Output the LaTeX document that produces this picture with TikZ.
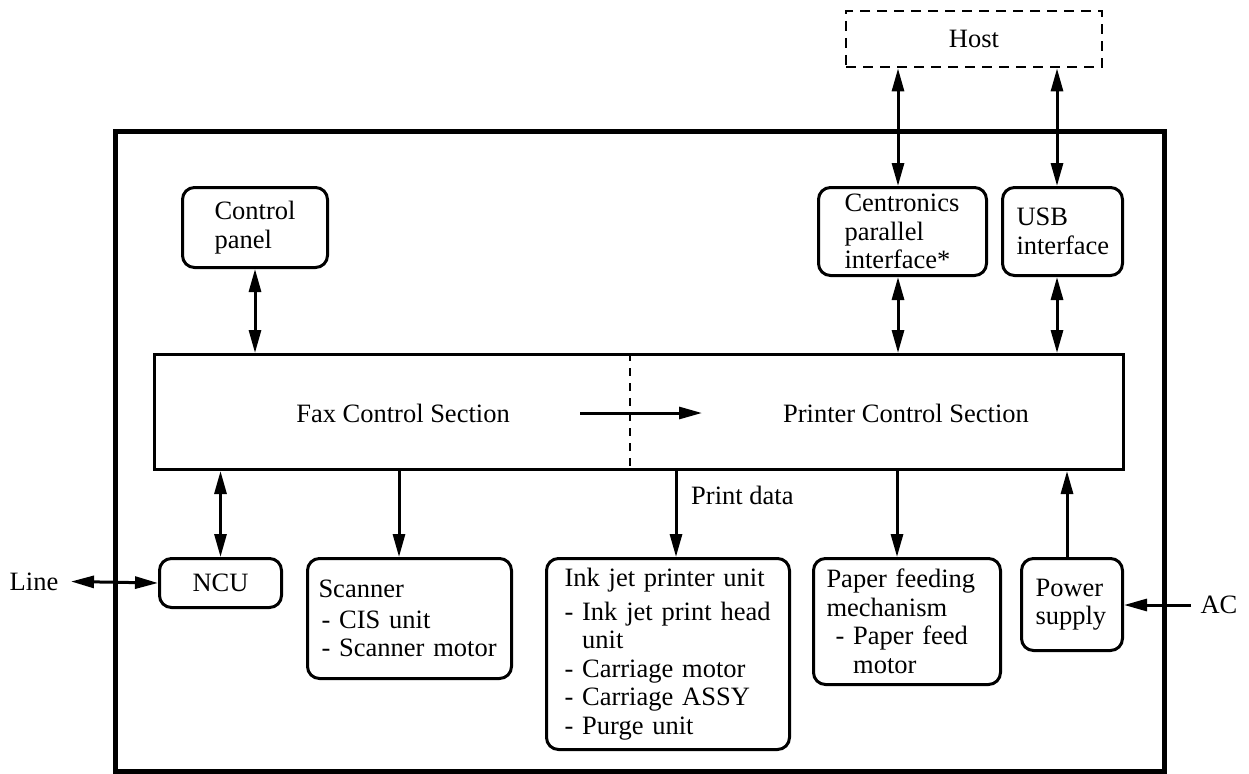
\documentclass[tikz,border=0pt]{standalone}
\usepackage{fontspec}
\setmainfont{Liberation Serif}
\usetikzlibrary{arrows.meta}
\begin{document}
\begin{tikzpicture}[x=1pt,y=-1pt,
  font=\fontsize{26.5}{28.5}\selectfont,
  >={Triangle[length=23pt,width=12pt]},
  box/.style={draw, rounded corners=12pt, line width=3pt, anchor=north west, align=left, inner ysep=0pt},
  lbl/.style={inner sep=2pt},
  conn/.style={line width=3pt},
]
\useasboundingbox (0,0) rectangle (1249,773);
% outer frame
\draw[line width=5pt] (115,131.5) rectangle (1164,771);

% host
\node[draw, dash pattern=on 10pt off 7pt, line width=2.8pt, minimum width=256pt, minimum height=56pt, inner sep=0pt] (host) at (974,39) {Host};

% top boxes
\node[box, minimum width=145pt, minimum height=80pt, inner xsep=32pt, text width=81pt] (cp) at (181,186) {Control\\panel};
\node[box, minimum width=168pt, minimum height=88pt, inner xsep=26pt, text width=116pt] (cen) at (817,186) {Centronics\\parallel\\interface*};
\node[box, minimum width=120pt, minimum height=88pt, inner xsep=14pt, text width=92pt] (usb) at (1001,186) {USB\\interface};

% control section
\node[draw, line width=3pt, minimum width=969pt, minimum height=115pt, anchor=north west, inner sep=0pt] (ctrl) at (153,353) {};
\node (fax) at (403,413) {Fax Control Section};
\node (prn) at (906,413) {Printer Control Section};
\coordinate (div) at (630,0);
\draw[line width=2.6pt, dash pattern=on 8pt off 7pt] (ctrl.north -| div) -- (ctrl.south -| div);
\coordinate (fa1) at (580,413);
\coordinate (fa2) at (702,413);
\draw[conn,->] (fa1) -- (fa2);

% bottom boxes
\node[box, align=center, minimum width=122pt, minimum height=49pt, inner sep=0pt] (ncu) at (158,557) {NCU};
\node[box, minimum width=204pt, minimum height=120pt, inner xsep=11pt, text width=182pt] (scan) at (306,557) {Scanner\\[2pt]\hspace*{3pt}- CIS unit\\\hspace*{3pt}- Scanner motor};
\node[box, minimum width=243pt, minimum height=191pt, inner xsep=18pt, text width=207pt] (ink) at (545,557) {Ink jet printer unit\\[5pt]- Ink jet print head\\\phantom{- }unit\\- Carriage motor\\- Carriage ASSY\\- Purge unit};
\node[box, minimum width=187pt, minimum height=126pt, inner xsep=13pt, text width=161pt] (pap) at (812,557) {Paper feeding\\mechanism\\\hspace*{9pt}- Paper feed\\\hspace*{9pt}\phantom{- }motor};
\node[box, minimum width=101pt, minimum height=92pt, inner xsep=14pt, text width=73pt] (pow) at (1020,557) {Power\\supply};

% labels
\node[lbl] (lineL) at (34,582) {Line};
\node[lbl] (ac) at (1219,605) {AC};
\node[lbl, anchor=west] (pd) at (689,495) {Print data};

% connector x positions
\coordinate (xcen) at (898,0);
\coordinate (xusb) at (1057,0);
\coordinate (xsc) at (399,0);
\coordinate (xink) at (676,0);
\coordinate (xpap) at (897,0);
\coordinate (xpow) at (1067,0);
\coordinate (lineEnd) at (71,581.5);
\coordinate (acEnd) at (1191,605);

% connectors
\draw[conn,<->] (cp.south) -- (cp.south |- ctrl.north);
\draw[conn,<->] (host.south -| xcen) -- (cen.north -| xcen);
\draw[conn,<->] (cen.south -| xcen) -- (ctrl.north -| xcen);
\draw[conn,<->] (host.south -| xusb) -- (usb.north -| xusb);
\draw[conn,<->] (usb.south -| xusb) -- (ctrl.north -| xusb);
\draw[conn,<->] (ctrl.south -| ncu.north) -- (ncu.north);
\draw[conn,->] (ctrl.south -| xsc) -- (scan.north -| xsc);
\draw[conn,->] (ctrl.south -| xink) -- (ink.north -| xink);
\draw[conn,->] (ctrl.south -| xpap) -- (pap.north -| xpap);
\draw[conn,->] (pow.north -| xpow) -- (ctrl.south -| xpow);
\draw[conn,<->] (lineEnd) -- (ncu.west);
\draw[conn,->] (acEnd) -- (acEnd -| pow.east);
\end{tikzpicture}
\end{document}
